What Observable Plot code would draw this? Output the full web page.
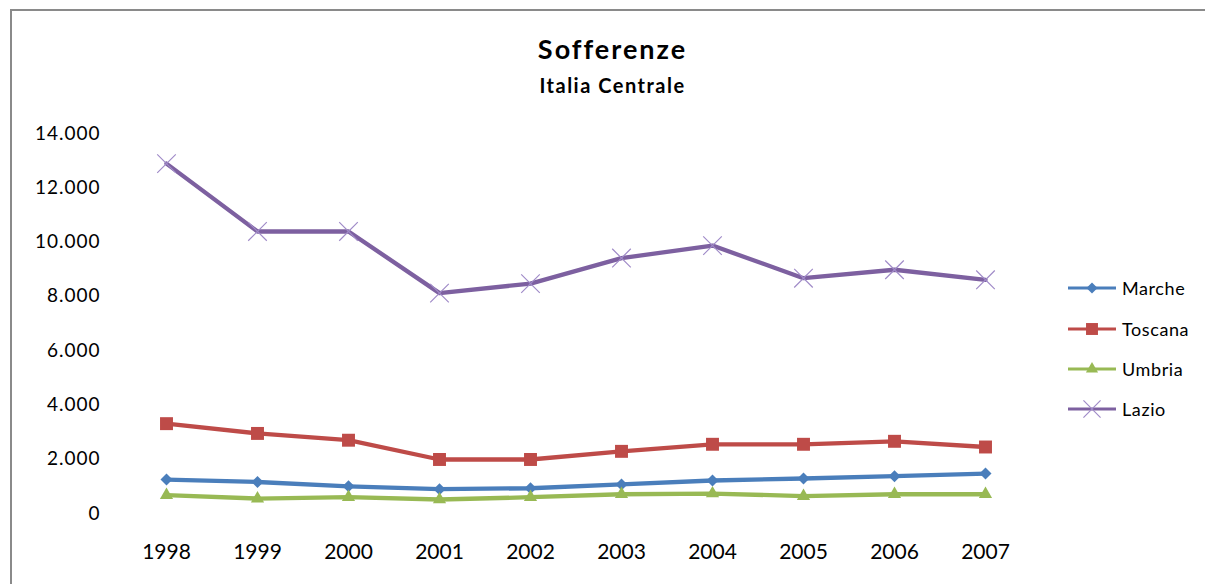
<!DOCTYPE html>
<html>
<head>
<meta charset="utf-8">
<script src="https://cdn.jsdelivr.net/npm/d3@7"></script>
<script src="https://cdn.jsdelivr.net/npm/@observablehq/plot@0.6"></script>
<style>
  html, body { margin: 0; padding: 0; background: #fff; }
  #wrap { position: relative; width: 1205px; height: 584px; overflow: hidden; font-family: Lato, "Open Sans", sans-serif; }
  #frame { position: absolute; left: 10px; top: 9px; width: 1300px; height: 700px; border-left: 2px solid #8a8a8a; border-top: 2px solid #8a8a8a; }
  #title { position: absolute; left: 0; width: 1225px; top: 32px; text-align: center; font-weight: bold; font-size: 27px; letter-spacing: 2px; color: #000; }
  #subtitle { position: absolute; left: 0; width: 1225px; top: 73px; text-align: center; font-weight: bold; font-size: 20px; letter-spacing: 1.5px; color: #000; }
  #chart { position: absolute; left: 0; top: 0; }
  #legend { position: absolute; left: 1067px; top: 268px; }
  .row { display: flex; align-items: center; height: 40.4px; font-size: 18px; letter-spacing: 0.6px; color: #000; }
  .row svg { margin-right: 5px; }
</style>
</head>
<body>
<div id="wrap">
  <div id="frame"></div>
  <div id="chart"></div>
  <div id="title">Sofferenze</div>
  <div id="subtitle">Italia Centrale</div>
  <div id="legend"></div>
</div>
<script>
const years = ["1998","1999","2000","2001","2002","2003","2004","2005","2006","2007"];
const seriesNames = ["Marche","Toscana","Umbria","Lazio"];
const marche  = [1250, 1160, 1000, 895, 930, 1070, 1215, 1290, 1375, 1470];
const toscana = [3310, 2950, 2700, 1990, 1990, 2290, 2550, 2550, 2660, 2450];
const umbria  = [675, 550, 600, 515, 600, 710, 735, 640, 710, 710];
const lazio   = [12890, 10390, 10390, 8120, 8470, 9410, 9870, 8670, 8980, 8610];
const yTicks  = [0, 2000, 4000, 6000, 8000, 10000, 12000, 14000];
const colors  = ["#4A7EBB", "#BE4B48", "#98B954", "#7D60A0"];

const valuesBySeries = [marche, toscana, umbria, lazio];
const rows = [];
seriesNames.forEach((s, i) => years.forEach((y, j) => rows.push({series: s, year: y, value: valuesBySeries[i][j]})));

const it = d3.formatLocale({decimal: ",", thousands: ".", grouping: [3], currency: ["€", ""]});
const fmt = it.format(",");

// square rotated 45° (Excel-style diamond marker)
const excelDiamond = {
  draw(context, size) {
    const h = Math.sqrt(size / 2);
    context.moveTo(0, -h); context.lineTo(h, 0); context.lineTo(0, h); context.lineTo(-h, 0); context.closePath();
  }
};
const markerSpecs = [
  {symbol: excelDiamond, r: 4.8, filled: true},
  {symbol: "square", r: 7.3, filled: true},
  {symbol: "triangle", r: 4.9, filled: true},
  {symbol: "times", r: 8.5, filled: false}
];
const crossColor = "#A08BC8";

const dotMarks = seriesNames.map((s, i) => {
  const spec = markerSpecs[i];
  const data = rows.filter(d => d.series === s);
  return spec.filled
    ? Plot.dot(data, {x: "year", y: "value", fill: colors[i], symbol: spec.symbol, r: spec.r, stroke: "none"})
    : Plot.dot(data, {x: "year", y: "value", stroke: crossColor, symbol: spec.symbol, r: spec.r, strokeWidth: 1.2});
});

const chart = Plot.plot({
  width: 1205,
  height: 584,
  marginLeft: 119,
  marginRight: 174,
  marginTop: 133,
  marginBottom: 71,
  style: {fontFamily: "Lato, 'Open Sans', sans-serif", background: "transparent", overflow: "visible"},
  x: {type: "point", domain: years, padding: 0.5},
  y: {domain: [0, 14000]},
  color: {domain: seriesNames, range: colors},
  marks: [
    Plot.axisY({ticks: yTicks, tickFormat: d => fmt(d), tickSize: 0, tickPadding: 19, fontSize: 19, label: null, line: true, stroke: "#888", color: "#000"}),
    Plot.axisX({tickSize: 0, tickPadding: 31, fontSize: 21, label: null, line: true, stroke: "#888", color: "#000"}),
    Plot.line(rows, {x: "year", y: "value", z: "series", stroke: "series", strokeWidth: 4.3, strokeLinejoin: "round"}),
    ...dotMarks
  ]
});
// widen y tick labels slightly (the reference font is wider)
d3.select(chart).selectAll('g[aria-label="y-axis tick label"] text').attr("letter-spacing", "1px");
document.getElementById("chart").appendChild(chart);

// legend
const leg = d3.select("#legend");
seriesNames.forEach((s, i) => {
  const spec = markerSpecs[i];
  const row = leg.append("div").attr("class", "row");
  const svg = row.append("svg").attr("width", 50).attr("height", 20);
  svg.append("line").attr("x1", 1).attr("x2", 49).attr("y1", 10).attr("y2", 10).attr("stroke", colors[i]).attr("stroke-width", 3);
  const sym = [excelDiamond, d3.symbolSquare, d3.symbolTriangle, d3.symbolTimes][i];
  const p = svg.append("path").attr("transform", "translate(25,10)").attr("d", d3.symbol(sym, Math.PI * spec.r * spec.r * 0.85)());
  if (!spec.filled) p.attr("fill", "none").attr("stroke", crossColor).attr("stroke-width", 1.2);
  else p.attr("fill", colors[i]);
  row.append("span").text(s);
});
</script>
</body>
</html>
